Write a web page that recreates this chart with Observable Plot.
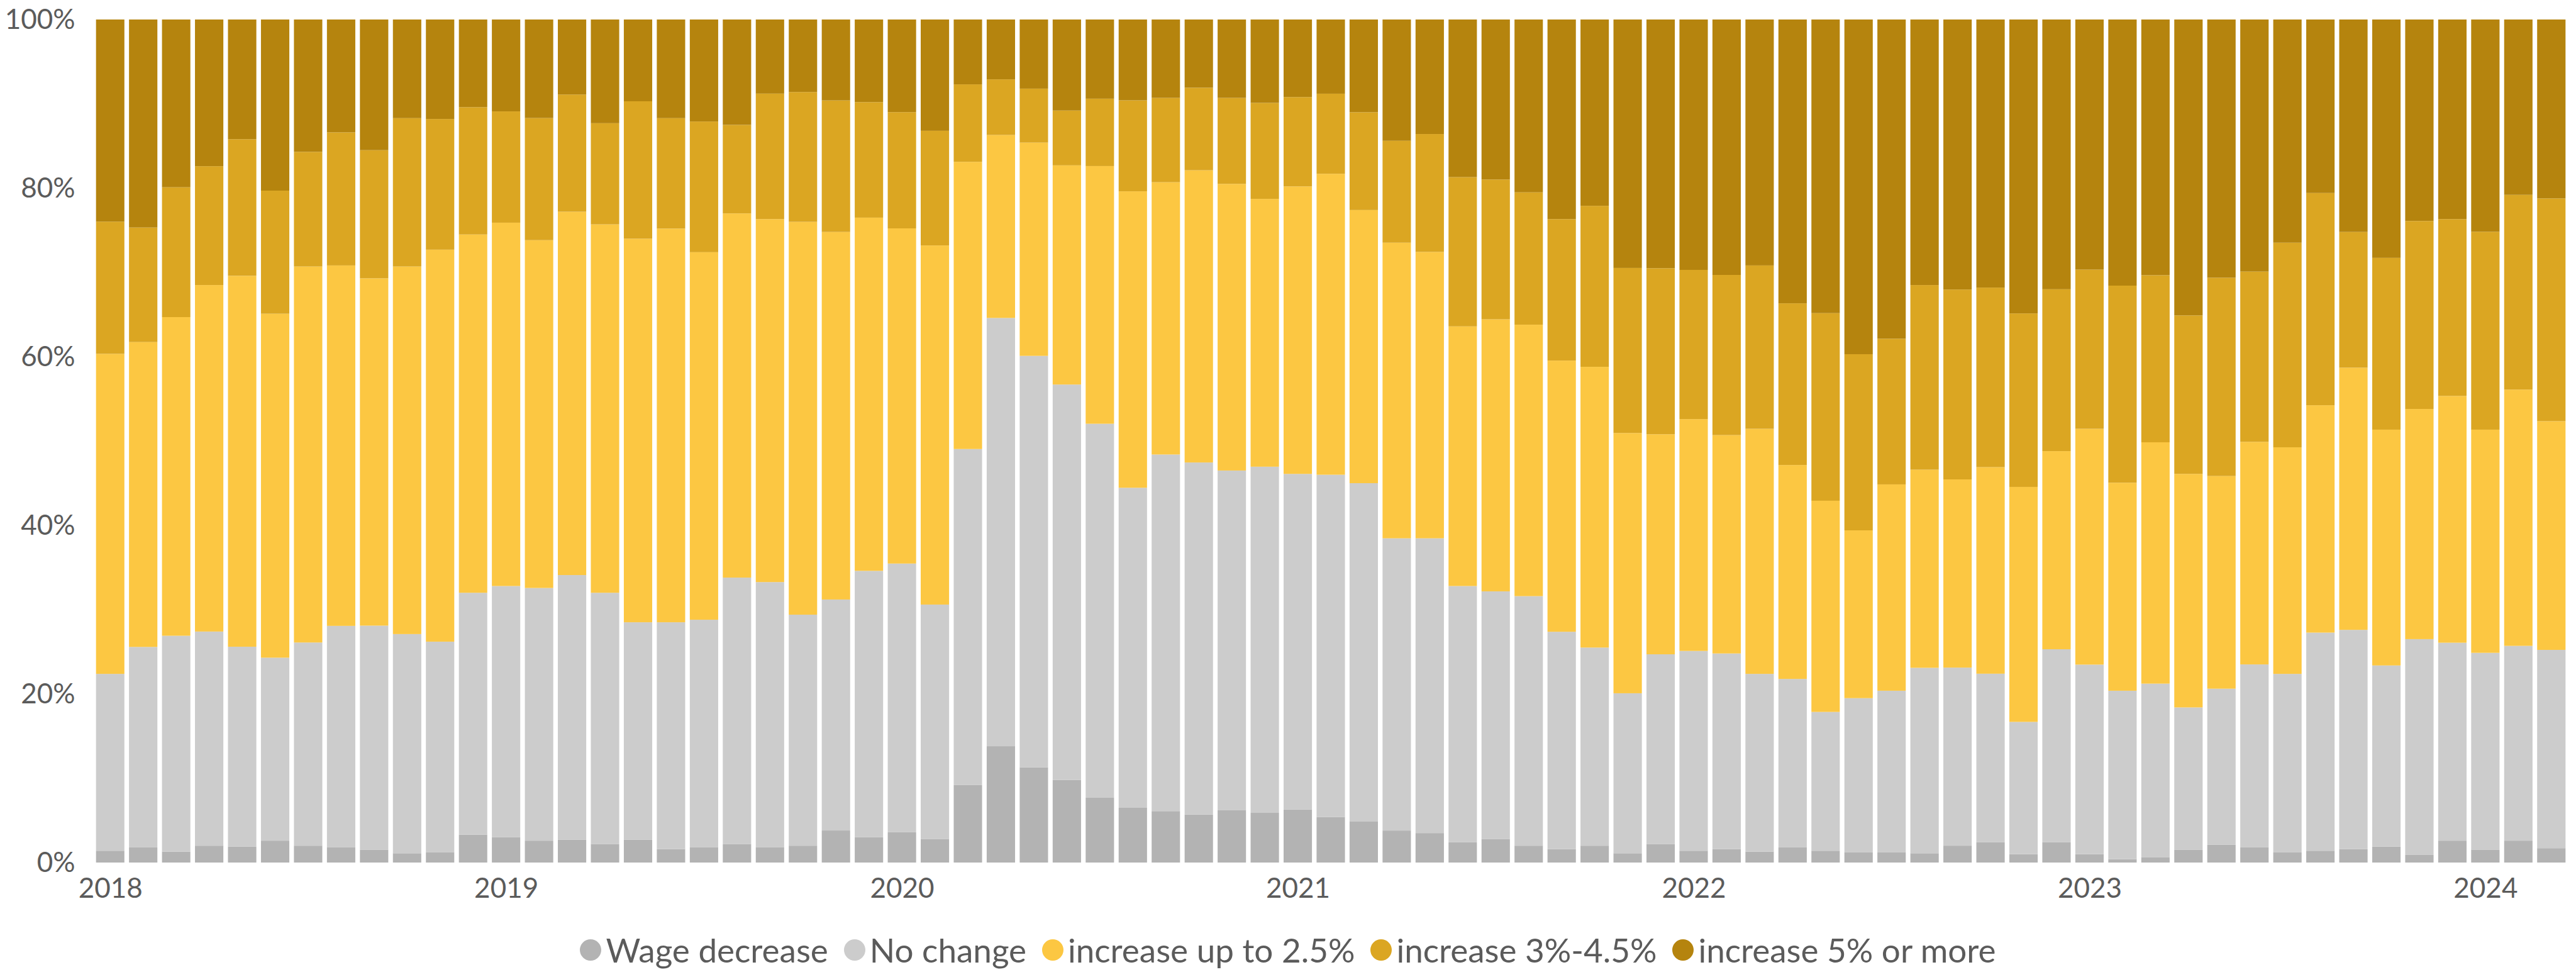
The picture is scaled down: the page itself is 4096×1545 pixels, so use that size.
<!DOCTYPE html>
<html>
<head>
<meta charset="utf-8">
<script src="https://cdn.jsdelivr.net/npm/d3@7"></script>
<script src="https://cdn.jsdelivr.net/npm/@observablehq/plot@0.6"></script>
<style>
  html, body { margin: 0; padding: 0; background: #ffffff; }
  #wrap { width: 4096px; height: 1545px; position: relative; font-family: Lato, "Open Sans", sans-serif; }
  #legend { position: absolute; left: 0; width: 4096px; top: 1478px; display: flex; justify-content: center; align-items: center; gap: 25px; font-size: 53px; color: #5b5b5b; white-space: nowrap; }
  .item { display: flex; align-items: center; gap: 7px; }
  .sw { width: 34px; height: 34px; border-radius: 50%; display: inline-block; }
</style>
</head>
<body>
<div id="wrap">
  <div id="chart"></div>
  <div id="legend"></div>
</div>
<script>
// Categories (stack order, bottom to top)
const categories = ["Wage decrease", "No change", "increase up to 2.5%", "increase 3%-4.5%", "increase 5% or more"];
const colors = ["#b3b3b3", "#cccccc", "#fcc742", "#dba622", "#b5840e"];
const years = ["2018", "2019", "2020", "2021", "2022", "2023", "2024"];

// Months Jan 2018 .. Mar 2024 (75 bars)
const months = [];
for (const y of years) for (let m = 1; m <= 12; m++) {
  if (y === "2024" && m > 3) break;
  months.push(y + "-" + String(m).padStart(2, "0"));
}

// Shares (%)
const wageDecrease = [1.4,1.8,1.3,2.0,1.9,2.6,2.0,1.8,1.5,1.1,1.2,3.3,
  3.0,2.6,2.7,2.2,2.7,1.6,1.8,2.2,1.8,2.0,3.8,3.0,
  3.6,2.8,9.2,13.8,11.3,9.8,7.7,6.5,6.1,5.7,6.2,5.9,
  6.3,5.4,4.9,3.8,3.5,2.4,2.8,2.0,1.6,2.0,1.1,2.2,
  1.4,1.6,1.3,1.8,1.4,1.2,1.2,1.1,2.0,2.4,1.0,2.4,
  1.0,0.4,0.6,1.5,2.1,1.8,1.2,1.4,1.6,1.9,0.9,2.6,
  1.5,2.6,1.7];
const noChange = [21.0,23.8,25.6,25.4,23.7,21.7,24.1,26.3,26.6,26.0,25.0,28.7,
  29.8,30.0,31.4,29.8,25.8,26.9,27.0,31.6,31.5,27.4,27.4,31.6,
  31.9,27.8,39.9,50.8,48.8,46.9,44.4,38.0,42.3,41.8,40.3,41.1,
  39.8,40.6,40.1,34.7,35.0,30.4,29.4,29.6,25.8,23.5,19.0,22.5,
  23.7,23.2,21.1,20.0,16.5,18.3,19.2,22.0,21.1,20.0,15.7,22.9,
  22.5,20.0,20.6,16.9,18.5,21.7,21.2,25.9,26.0,21.5,25.6,23.5,
  23.4,23.1,23.5];
const upTo2_5 = [38.0,36.2,37.8,41.1,44.0,40.8,44.6,42.8,41.2,43.6,46.5,42.5,
  43.1,41.3,43.1,43.7,45.5,46.7,43.6,43.2,43.1,46.6,43.6,41.9,
  39.8,42.6,34.1,21.7,25.3,26.0,30.6,35.2,32.3,34.7,34.0,31.8,
  34.1,35.7,32.4,35.1,34.0,30.8,32.3,32.2,32.2,33.3,30.9,26.1,
  27.5,25.9,29.1,25.4,25.1,19.9,24.5,23.5,22.3,24.5,27.9,23.5,
  28.0,24.7,28.6,27.7,25.2,26.4,26.9,27.0,31.1,28.0,27.3,29.3,
  26.5,30.4,27.1];
const from3to4_5 = [15.7,13.6,15.4,14.1,16.2,14.6,13.6,15.8,15.2,17.6,15.5,15.1,
  13.2,14.5,13.9,12.0,16.3,13.1,15.5,10.5,14.9,15.4,15.6,13.7,
  13.8,13.6,9.2,6.6,6.4,6.5,8.0,10.8,10.0,9.8,10.2,11.4,
  10.6,9.5,11.6,12.1,14.0,17.7,16.6,15.7,16.8,19.1,19.6,19.7,
  17.7,19.0,19.4,19.2,22.3,20.9,17.3,21.9,22.5,21.3,20.6,19.2,
  18.9,23.4,19.8,18.8,23.5,20.2,24.3,25.2,16.1,20.4,22.3,21.0,
  23.5,23.1,26.4];
const fivePlus = [24.0,24.7,19.9,17.4,14.2,20.3,15.7,13.4,15.5,11.7,11.8,10.4,
  10.9,11.7,8.9,12.3,9.7,11.7,12.1,12.5,8.8,8.6,9.6,9.8,
  11.0,13.2,7.7,7.1,8.2,10.8,9.4,9.6,9.3,8.1,9.3,9.9,
  9.2,8.8,11.0,14.4,13.6,18.7,19.0,20.5,23.7,22.1,29.5,29.5,
  29.7,30.3,29.2,33.7,34.9,39.7,37.9,31.5,32.0,31.8,34.9,32.0,
  29.7,31.6,30.3,35.1,30.6,29.9,26.5,20.6,25.2,28.3,23.9,23.7,
  25.2,20.8,21.2];

const seriesValues = [wageDecrease, noChange, upTo2_5, from3to4_5, fivePlus];
const data = months.flatMap((m, i) => categories.map((c, k) => ({month: m, cat: c, value: seriesValues[k][i]})));

const chart = Plot.plot({
  width: 4096,
  height: 1450,
  marginLeft: 149,
  marginRight: 13,
  marginTop: 31,
  marginBottom: 79,
  style: {fontFamily: "Lato, 'Open Sans', sans-serif", fontSize: "44px", color: "#5b5b5b", background: "#ffffff"},
  x: {
    type: "band",
    domain: months,
    paddingInner: 0.14,
    paddingOuter: 0.07,
    label: null,
    tickSize: 0,
    tickPadding: 24,
    tickFormat: m => m.endsWith("-01") ? m.slice(0, 4) : ""
  },
  y: {
    domain: [0, 1],
    ticks: [0, 0.2, 0.4, 0.6, 0.8, 1],
    tickFormat: d => Math.round(d * 100) + "%",
    tickSize: 0,
    tickPadding: 30,
    label: null
  },
  color: {domain: categories, range: colors},
  marks: [
    Plot.barY(data, Plot.stackY({offset: "normalize"}, {x: "month", y: "value", fill: "cat", z: "cat"}))
  ]
});
document.getElementById("chart").appendChild(chart);

const legend = document.getElementById("legend");
categories.forEach((c, i) => {
  const it = document.createElement("div");
  it.className = "item";
  const sw = document.createElement("span");
  sw.className = "sw";
  sw.style.background = colors[i];
  const tx = document.createElement("span");
  tx.textContent = c;
  it.appendChild(sw);
  it.appendChild(tx);
  legend.appendChild(it);
});
</script>
</body>
</html>
